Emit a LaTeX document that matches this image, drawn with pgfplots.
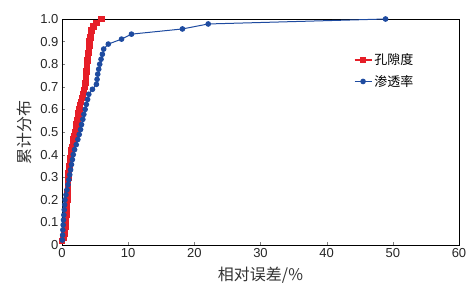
\documentclass[border=0pt]{standalone}
\usepackage{pgfplots}
\pgfplotsset{compat=1.18}
\usepackage{fontspec}
\setmainfont{Liberation Sans}
\newfontfamily\cjk{Noto Sans CJK SC}
\definecolor{cred}{RGB}{230,30,40}
\definecolor{cblue}{RGB}{30,75,160}
\begin{document}
\begin{tikzpicture}
\path[use as bounding box] (-62pt,-47pt) rectangle (414pt,245pt);
\begin{axis}[
  scale only axis, width=397pt, height=226pt,
  xmin=0, xmax=60, ymin=0, ymax=1,
  xtick={0,10,...,60}, ytick={0,0.1,...,1.0},
  yticklabels={0,0.1,0.2,0.3,0.4,0.5,0.6,0.7,0.8,0.9,1.0},
  tick align=inside, xtick pos=bottom, ytick pos=left,
  major tick length=3pt,
  tick label style={font=\fontsize{13}{15}\selectfont, text=black!85},
  /pgf/number format/assume math mode=true,
  xlabel={\cjk 相对误差/\%}, ylabel={\cjk 累计分布},
  xlabel style={font=\fontsize{16}{18}\selectfont, text=black!80, yshift=-2pt},
  ylabel style={font=\fontsize{16}{18}\selectfont, text=black!80, yshift=2pt},
  axis line style={black, line width=0.8pt},
  legend style={draw=none, fill=none, at={(0.727,0.865)}, anchor=north west, font=\cjk\fontsize{13}{15}\selectfont, row sep=5pt},
  legend cell align=left,
]
\addplot[cred, line width=1.4pt, mark=square*, mark size=2.6pt, mark options={solid}] coordinates {
(0.0,0.017)(0.2,0.033)(0.4,0.050)(0.47,0.067)(0.53,0.083)(0.6,0.100)(0.63,0.117)(0.67,0.133)(0.7,0.150)(0.73,0.167)
(0.77,0.183)(0.8,0.200)(0.83,0.217)(0.85,0.233)(0.88,0.250)(0.9,0.267)(0.93,0.283)(0.95,0.300)(1.02,0.317)(1.08,0.333)
(1.15,0.350)(1.22,0.367)(1.28,0.383)(1.35,0.400)(1.46,0.417)(1.57,0.433)(1.68,0.450)(1.78,0.467)(1.89,0.483)(2.0,0.500)
(2.1,0.517)(2.2,0.533)(2.3,0.550)(2.4,0.567)(2.5,0.583)(2.6,0.600)(2.75,0.617)(2.9,0.633)(3.05,0.650)(3.2,0.667)
(3.35,0.683)(3.5,0.700)(3.55,0.717)(3.6,0.733)(3.65,0.750)(3.7,0.767)(3.75,0.783)(3.8,0.800)(3.87,0.817)(3.93,0.833)
(4.0,0.850)(4.07,0.867)(4.13,0.883)(4.2,0.900)(4.3,0.917)(4.4,0.933)(4.5,0.950)(4.75,0.967)(5.2,0.983)(6.0,1.000)
};
\addlegendentry{孔隙度}
\addplot[cblue, line width=1pt, mark=*, mark size=2.3pt] coordinates {
(0.05,0.022)(0.1,0.044)(0.13,0.067)(0.18,0.089)(0.23,0.111)(0.28,0.133)(0.34,0.156)(0.4,0.178)(0.45,0.200)(0.6,0.222)
(0.75,0.244)(0.9,0.267)(1.05,0.289)(1.17,0.311)(1.3,0.333)(1.43,0.356)(1.57,0.378)(1.7,0.400)(1.9,0.422)(2.15,0.444)
(2.4,0.467)(2.6,0.489)(2.8,0.511)(2.95,0.533)(3.15,0.556)(3.3,0.578)(3.5,0.600)(3.68,0.622)(3.87,0.644)(4.05,0.667)
(4.6,0.689)(5.2,0.711)(5.3,0.733)(5.4,0.756)(5.55,0.778)(5.7,0.800)(5.9,0.822)(6.1,0.844)(6.3,0.867)(7.0,0.889)
(9.0,0.911)(10.5,0.933)(18.2,0.956)(22.1,0.978)(48.9,1.000)
};
\addlegendentry{渗透率}
\end{axis}
\end{tikzpicture}
\end{document}
